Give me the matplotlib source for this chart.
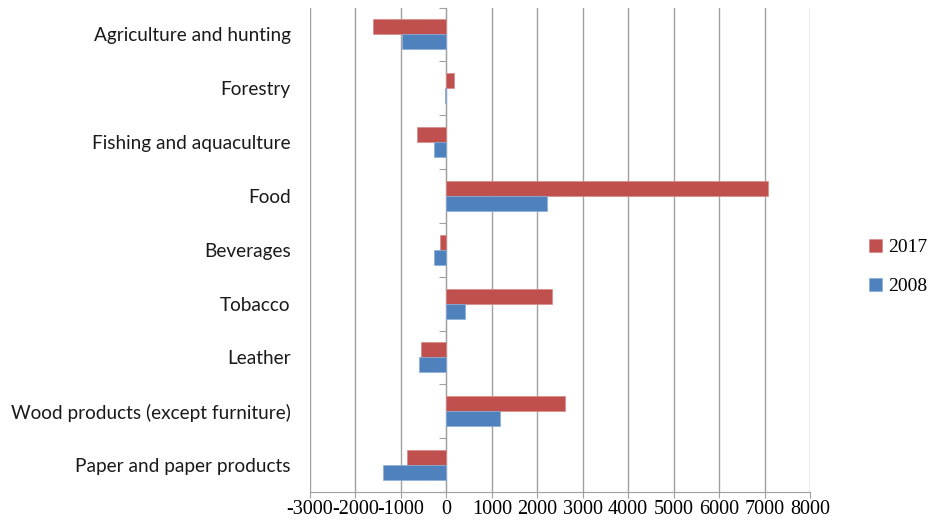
import numpy as np
import matplotlib
matplotlib.use("Agg")
import matplotlib.pyplot as plt

# Data (top to bottom)
sectors = [
    "Agriculture and hunting", "Forestry", "Fishing and aquaculture", "Food",
    "Beverages", "Tobacco", "Leather", "Wood products (except furniture)",
    "Paper and paper products",
]
vals_2017 = [-1620, 160, -650, 7080, -130, 2320, -565, 2600, -870]
vals_2008 = [-970, -40, -270, 2220, -270, 410, -595, 1190, -1385]

red = "#C0504D"
blue = "#4F81BD"
grid_col = "#A0A0A0"

fig = plt.figure(figsize=(9.32, 5.27), dpi=100)
ax = fig.add_axes([310 / 932, 1 - 492 / 527, 500 / 932, (492 - 7.5) / 527])

y = np.arange(len(sectors))
h = 0.28
ax.barh(y - h / 2, vals_2017, height=h, color=red, edgecolor="#D88A88", linewidth=0.5, label="2017", zorder=3)
ax.barh(y + h / 2, vals_2008, height=h, color=blue, edgecolor="#8AADD8", linewidth=0.5, label="2008", zorder=3)

ax.set_xlim(-3000, 8000)
ax.set_ylim(len(sectors) - 0.5, -0.5)
ax.set_xticks(range(-3000, 8001, 1000))
ax.set_xticklabels([str(v) for v in range(-3000, 8001, 1000)],
                   fontfamily="Liberation Serif", fontsize=14.5)
ax.set_yticks(y)
ax.set_yticklabels(sectors, fontfamily="Lato", fontsize=13.7, color="#1a1a1a")
ax.tick_params(axis="y", length=0, pad=14)
ax.tick_params(axis="x", direction="out", length=4, color=grid_col, pad=2)

ax.grid(axis="x", color=grid_col, linewidth=1, zorder=0)
for s in ["top", "left", "right"]:
    ax.spines[s].set_visible(False)
ax.spines["bottom"].set_color(grid_col)

# zero axis with category separators
zero = ax.secondary_yaxis(3000 / 11000)
zero.set_yticks(np.arange(len(sectors) + 1) - 0.5)
zero.set_yticklabels([])
zero.tick_params(direction="out", length=5, color=grid_col)
zero.spines["left"].set_color(grid_col)

leg = fig.legend(loc="upper left", bbox_to_anchor=(869 / 932, 1 - 239 / 527),
                 frameon=False, handlelength=0.65, handleheight=0.65,
                 handletextpad=0.35, labelspacing=1.1, borderpad=0,
                 borderaxespad=0,
                 prop={"family": "Liberation Serif", "size": 14})

fig.savefig("out.png", dpi=100)
